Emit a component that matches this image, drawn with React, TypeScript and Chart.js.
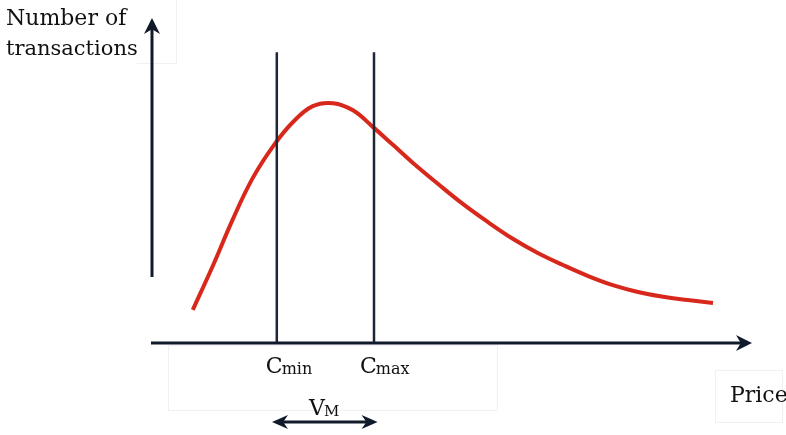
import React, { useEffect, useRef } from "react";
import { Chart, registerables } from "chart.js";

Chart.register(...registerables);

// Curve: number of transactions versus price (schematic units)
const prices = [6.8, 10.2, 13.5, 16.8, 20.2, 23.5, 26.8, 30.2, 33.5, 36.8, 40.2, 43.5, 47.7, 51.8, 56, 60.2, 64.3, 68.5, 72.7, 76.8, 81, 85.2, 89.3, 93.5];
const transactions = [10.2, 24.0, 38.2, 50.8, 60.6, 68.0, 72.9, 73.8, 71.6, 66.5, 60.9, 55.4, 48.9, 42.8, 37.2, 32.0, 27.7, 24.0, 20.6, 17.8, 15.7, 14.2, 13.2, 12.3];

// Price bounds
const cMin = 20.8;
const cMax = 37;
const boundTop = 89.5;

// Axis extents (data units)
const xAxisEnd = 100;
const yAxisStart = 20.3;
const yAxisEnd = 100;
const vmLevel = -24.3;
const vmFrom = 20;
const vmTo = 37.6;

// Text
const yTitle = ["Number of", "transactions"];
const xTitle = "Price";
const cMinLabel = ["C", "min"];
const cMaxLabel = ["C", "max"];
const vmLabel = ["V", "M"];

const INK = "#111a2b";
const FAINT = "#f1f1f1";
const SERIF = '"DejaVu Serif", "Liberation Serif", serif';

function arrowHead(ctx: CanvasRenderingContext2D, x: number, y: number, angle: number, len: number, half: number) {
  ctx.save();
  ctx.translate(x, y);
  ctx.rotate(angle);
  ctx.beginPath();
  ctx.moveTo(0, 0);
  ctx.lineTo(-len, -half);
  ctx.lineTo(-len * 0.7, 0);
  ctx.lineTo(-len, half);
  ctx.closePath();
  ctx.fill();
  ctx.restore();
}

const faintPlugin = {
  id: "faint",
  beforeDatasetsDraw(chart: any) {
    const ctx: CanvasRenderingContext2D = chart.ctx;
    ctx.save();
    ctx.strokeStyle = FAINT;
    ctx.lineWidth = 1;
    ctx.strokeRect(168.5, 345.5, 329, 65);
    ctx.strokeRect(715.5, 370.5, 67, 52);
    ctx.beginPath();
    ctx.moveTo(176.5, 0);
    ctx.lineTo(176.5, 63.5);
    ctx.lineTo(137, 63.5);
    ctx.stroke();
    ctx.restore();
  },
};

const decorPlugin = {
  id: "decor",
  afterDraw(chart: any) {
    const ctx: CanvasRenderingContext2D = chart.ctx;
    const xs = chart.scales.x;
    const ys = chart.scales.y;
    const px = (v: number) => xs.getPixelForValue(v);
    const py = (v: number) => ys.getPixelForValue(v);
    ctx.save();
    ctx.strokeStyle = INK;
    ctx.fillStyle = INK;
    ctx.lineCap = "butt";

    // x axis
    ctx.lineWidth = 3;
    ctx.beginPath();
    ctx.moveTo(px(0) - 1, py(0));
    ctx.lineTo(px(xAxisEnd) - 6, py(0));
    ctx.stroke();
    arrowHead(ctx, px(xAxisEnd), py(0), 0, 16, 8);

    // y axis
    ctx.beginPath();
    ctx.moveTo(px(0), py(yAxisStart));
    ctx.lineTo(px(0), py(yAxisEnd) + 6);
    ctx.stroke();
    arrowHead(ctx, px(0), py(yAxisEnd), -Math.PI / 2, 16, 8);

    // V_M double arrow
    const y = py(vmLevel);
    ctx.beginPath();
    ctx.moveTo(px(vmFrom) + 6, y);
    ctx.lineTo(px(vmTo) - 6, y);
    ctx.stroke();
    arrowHead(ctx, px(vmTo), y, 0, 16, 7);
    arrowHead(ctx, px(vmFrom), y, Math.PI, 16, 7);

    // texts
    ctx.fillStyle = "#111";
    ctx.textBaseline = "alphabetic";
    ctx.textAlign = "left";
    ctx.font = `22px ${SERIF}`;
    ctx.fillText(yTitle[0], 6, 25);
    ctx.font = `21px ${SERIF}`;
    ctx.fillText(yTitle[1], 6, 55);
    ctx.font = `22px ${SERIF}`;
    ctx.fillText(xTitle, 730, 402);

    const sub = (parts: string[], x: number, base: number, subFont: string) => {
      ctx.font = `22px ${SERIF}`;
      ctx.fillText(parts[0], x, base);
      const w = ctx.measureText(parts[0]).width;
      ctx.font = subFont;
      ctx.fillText(parts[1], x + w - 1, base + 1);
    };
    sub(cMinLabel, px(cMin) - 11, 373, `16px ${SERIF}`);
    sub(cMaxLabel, px(cMax) - 14, 373, `16px ${SERIF}`);
    sub(vmLabel, px(vmFrom) + 37, 415, `15px ${SERIF}`);
    ctx.restore();
  },
};

export default function App() {
  const ref = useRef<HTMLCanvasElement | null>(null);
  useEffect(() => {
    if (!ref.current) return;
    const boundLine = (v: number) => [
      { x: v, y: 0 },
      { x: v, y: boundTop },
    ];
    const chart = new Chart(ref.current, {
      type: "scatter",
      data: {
        datasets: [
          {
            label: "Cmin",
            data: boundLine(cMin),
            showLine: true,
            borderColor: "#1c2738",
            borderWidth: 2.5,
            pointRadius: 0,
            order: 1,
          },
          {
            label: "Cmax",
            data: boundLine(cMax),
            showLine: true,
            borderColor: "#1c2738",
            borderWidth: 2.5,
            pointRadius: 0,
            order: 1,
          },
          {
            label: "Transactions",
            data: prices.map((p, i) => ({ x: p, y: transactions[i] })),
            showLine: true,
            borderColor: "#d8281c",
            borderWidth: 4,
            pointRadius: 0,
            tension: 0.4,
            order: 2,
          },
        ],
      },
      options: {
        animation: false,
        responsive: true,
        maintainAspectRatio: false,
        layout: { padding: 0 },
        plugins: { legend: { display: false }, tooltip: { enabled: false } },
        scales: {
          x: { type: "linear", min: -25.333, max: 105.667, display: false },
          y: { type: "linear", min: -28.31, max: 105.54, display: false },
        },
      },
      plugins: [faintPlugin, decorPlugin],
    });
    return () => chart.destroy();
  }, []);
  return (
    <div style={{ position: "fixed", left: 0, top: 0, width: 786, height: 435, background: "#fff" }}>
      <canvas ref={ref} />
    </div>
  );
}
